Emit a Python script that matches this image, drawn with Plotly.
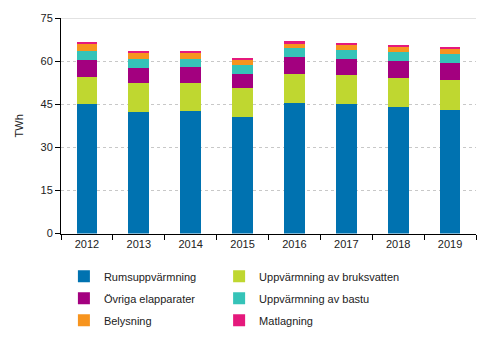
import plotly.graph_objects as go

years = ["2012", "2013", "2014", "2015", "2016", "2017", "2018", "2019"]
rumsuppvarmning = [45.1, 42.4, 42.7, 40.6, 45.5, 45.1, 44.1, 43.1]
bruksvatten = [9.5, 9.9, 9.6, 9.9, 9.9, 9.9, 9.9, 10.2]
ovriga = [5.8, 5.4, 5.8, 5.1, 6.1, 5.8, 6.1, 6.1]
bastu = [3.2, 3.2, 2.8, 3.1, 2.9, 3.0, 3.1, 3.1]
belysning = [2.3, 1.9, 1.9, 1.7, 1.9, 1.7, 1.7, 1.7]
matlagning = [0.7, 0.7, 0.7, 0.7, 0.6, 0.7, 0.7, 0.7]

series = [
    ("Rumsuppvärmning", rumsuppvarmning, "#0072b0", "legend"),
    ("Uppvärmning av bruksvatten", bruksvatten, "#bfd730", "legend2"),
    ("Övriga elapparater", ovriga, "#a3007f", "legend"),
    ("Uppvärmning av bastu", bastu, "#35c3b8", "legend2"),
    ("Belysning", belysning, "#f7941e", "legend"),
    ("Matlagning", matlagning, "#e5197c", "legend2"),
]

fig = go.Figure()
for i, (name, vals, col, lg) in enumerate(series):
    fig.add_trace(go.Bar(x=years, y=vals, name=name, legend=lg, legendgroup=f"g{i}",
                         marker=dict(color=col, line=dict(width=0))))

font = "Liberation Sans, Arial, sans-serif"
leg_common = dict(orientation="v", yref="container", y=0.23, xanchor="left", yanchor="top",
                  traceorder="grouped", tracegroupgap=3, font=dict(size=11),
                  itemclick=False, bgcolor="rgba(0,0,0,0)")
fig.update_layout(
    barmode="stack",
    bargap=0.6,
    width=491, height=340,
    margin=dict(l=61, r=15, t=14, b=106),
    paper_bgcolor="white", plot_bgcolor="white",
    font=dict(family=font, size=11, color="#222222"),
    showlegend=True,
    legend=dict(x=0.007, **leg_common),
    legend2=dict(x=0.381, **leg_common),
    shapes=[dict(type="line", xref="paper", yref="y", x0=0, x1=1, y0=75, y1=75,
                 line=dict(color="#d9d9d9", width=1.5))],
)
fig.update_xaxes(type="category", showline=True, linecolor="black", linewidth=1,
                 ticks="outside", ticklen=5, tickcolor="black", tickson="boundaries",
                 showgrid=False, tickfont=dict(size=11))
fig.update_yaxes(range=[0, 75], tickvals=[0, 15, 30, 45, 60, 75], showline=True,
                 linecolor="black", linewidth=1, ticks="outside", ticklen=5,
                 tickcolor="black", showgrid=True, gridcolor="#c8c8c8",
                 griddash="dot", gridwidth=1, zeroline=False,
                 title=dict(text="TWh", font=dict(size=11), standoff=14),
                 tickfont=dict(size=11))

fig.write_html("out.html")
